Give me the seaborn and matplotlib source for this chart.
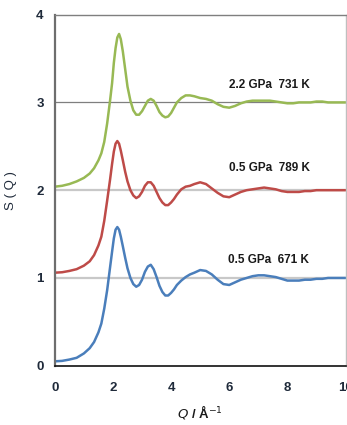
import matplotlib
matplotlib.use("Agg")
import matplotlib.pyplot as plt
import pandas as pd
import seaborn as sns

# --- Data --------------------------------------------------------------------
q = [0.0, 0.25, 0.5, 0.75, 1.0, 1.2, 1.35, 1.5, 1.6, 1.7, 1.8, 1.9, 1.97, 2.03,
     2.09, 2.15, 2.21, 2.27, 2.34, 2.42, 2.5, 2.6, 2.7, 2.8, 2.9, 3.0, 3.1, 3.2,
     3.3, 3.4, 3.5, 3.6, 3.7, 3.8, 3.9, 4.0, 4.1, 4.2, 4.35, 4.5, 4.65, 4.8,
     5.0, 5.2, 5.4, 5.6, 5.8, 6.0, 6.2, 6.4, 6.6, 6.8, 7.0, 7.2, 7.4, 7.6, 7.8,
     8.0, 8.2, 8.4, 8.6, 8.8, 9.0, 9.2, 9.4, 9.6, 9.8, 10.0]

s_671 = [0.05, 0.055, 0.07, 0.09, 0.14, 0.20, 0.27, 0.38, 0.48, 0.65, 0.86, 1.12,
         1.30, 1.45, 1.55, 1.58, 1.55, 1.47, 1.36, 1.23, 1.11, 1.00, 0.93, 0.90,
         0.92, 0.98, 1.07, 1.13, 1.15, 1.10, 1.01, 0.91, 0.84, 0.80, 0.80, 0.83,
         0.87, 0.92, 0.97, 1.01, 1.04, 1.06, 1.09, 1.08, 1.04, 0.98, 0.93, 0.92,
         0.95, 0.98, 1.00, 1.02, 1.03, 1.03, 1.02, 1.01, 0.99, 0.97, 0.97, 0.97,
         0.98, 0.98, 0.99, 0.99, 1.00, 1.00, 1.00, 1.00]

s_789 = [1.06, 1.065, 1.08, 1.10, 1.14, 1.19, 1.26, 1.37, 1.47, 1.65, 1.88, 2.12,
         2.30, 2.44, 2.53, 2.56, 2.53, 2.45, 2.34, 2.21, 2.10, 2.00, 1.94, 1.91,
         1.93, 1.98, 2.05, 2.09, 2.09, 2.05, 1.98, 1.91, 1.86, 1.83, 1.83, 1.86,
         1.90, 1.95, 2.01, 2.04, 2.05, 2.07, 2.09, 2.07, 2.02, 1.97, 1.93, 1.92,
         1.95, 1.98, 2.00, 2.01, 2.02, 2.03, 2.02, 2.01, 1.99, 1.98, 1.98, 1.98,
         1.99, 1.99, 2.00, 2.00, 2.00, 2.00, 2.00, 2.00]

s_731 = [2.04, 2.05, 2.07, 2.10, 2.14, 2.19, 2.25, 2.34, 2.42, 2.55, 2.76, 3.02,
         3.22, 3.45, 3.62, 3.74, 3.78, 3.72, 3.58, 3.38, 3.18, 3.02, 2.91, 2.86,
         2.86, 2.90, 2.96, 3.02, 3.04, 3.02, 2.96, 2.89, 2.85, 2.83, 2.84, 2.88,
         2.94, 3.00, 3.05, 3.08, 3.08, 3.07, 3.05, 3.04, 3.02, 2.98, 2.95, 2.94,
         2.96, 2.99, 3.01, 3.02, 3.02, 3.02, 3.02, 3.01, 3.00, 2.99, 2.99, 3.00,
         3.00, 3.00, 3.01, 3.01, 3.00, 3.00, 3.00, 3.00]

labels = ["0.5 GPa  671 K", "0.5 GPa  789 K", "2.2 GPa  731 K"]
label_pos = [(7.35, 1.2), (7.4, 2.25), (7.4, 3.2)]
colors = ["#4a7ebb", "#be4b48", "#98b954"]

df = pd.DataFrame({
    "Q": q * 3,
    "S": s_671 + s_789 + s_731,
    "run": [labels[0]] * len(q) + [labels[1]] * len(q) + [labels[2]] * len(q),
})

# --- Plot ----------------------------------------------------------------------
sns.set_style("white")
plt.rcParams["font.family"] = ["Liberation Sans", "DejaVu Sans"]

fig = plt.figure(figsize=(3.47, 4.25), dpi=100)
ax = fig.add_axes([0.158, 0.1395, 0.8377, 0.826])

# reference lines at S = 1, 2, 3
ax.axhline(1, color="#c8c8c8", lw=1.6, zorder=0)
ax.axhline(2, color="#c8c8c8", lw=1.6, zorder=0)
ax.axhline(3, color="#7f7f7f", lw=0.9, zorder=0)

sns.lineplot(data=df, x="Q", y="S", hue="run", palette=colors,
             linewidth=1.8, legend=False, ax=ax, sort=False)

for text, (x, y) in zip(labels, label_pos):
    ax.text(x, y, text, ha="center", va="center", fontsize=8.5,
            fontweight="bold", color="#1a1a1a")

ax.set_xlim(0, 10)
ax.set_ylim(0, 4)
ax.set_xticks([0, 2, 4, 6, 8, 10])
ax.set_yticks([0, 1, 2, 3, 4])
ax.tick_params(length=0, labelsize=9.5, colors="#1f2a3a")
ax.tick_params(axis="x", pad=12)
ax.tick_params(axis="y", pad=8)
for lab in ax.get_xticklabels() + ax.get_yticklabels():
    lab.set_fontweight("bold")

ax.set_xlabel(r"$\bf{\it{Q}}$ / Å$^{-1}$", fontsize=9.5, fontweight="bold",
              color="#1a1a1a", labelpad=6)
ax.set_ylabel("S ( Q )", fontsize=9.5, color="#1f2a3a", labelpad=14)

ax.spines["left"].set_color("#6e6e6e")
ax.spines["left"].set_linewidth(1.6)
ax.spines["bottom"].set_color("#111111")
ax.spines["bottom"].set_linewidth(1.2)
ax.spines["top"].set_color("#7f7f7f")
ax.spines["top"].set_linewidth(1.0)
ax.spines["right"].set_color("#bfbfbf")
ax.spines["right"].set_linewidth(1.0)

fig.savefig("out.png", dpi=100)
